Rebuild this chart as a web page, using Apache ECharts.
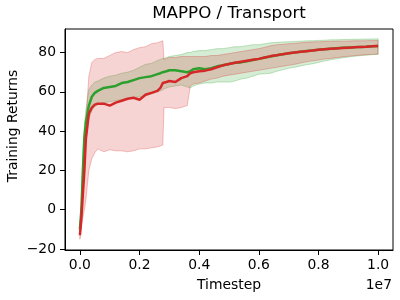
<!DOCTYPE html>
<html>
<head>
<meta charset="utf-8">
<script src="https://cdn.jsdelivr.net/npm/echarts@6/dist/echarts.min.js"></script>
<style>html,body{margin:0;padding:0;background:#fff}#c{width:400px;height:300px}</style>
</head>
<body>
<div id="c"></div>
<script>
const timesteps = [0, 50000, 100000, 150000, 200000, 300000, 400000, 500000, 600000, 800000,
  1000000, 1200000, 1400000, 1600000, 1800000, 2000000, 2200000, 2400000, 2600000, 2700000,
  2780000, 2820000, 2900000, 3000000, 3200000, 3400000, 3600000, 3700000, 3800000, 4000000,
  4200000, 4400000, 4600000, 4800000, 5000000, 5200000, 5400000, 5600000, 5800000, 6000000,
  6200000, 6400000, 6600000, 6800000, 7000000, 7200000, 7400000, 7600000, 7800000, 8000000,
  8200000, 8400000, 8600000, 8800000, 9000000, 9200000, 9400000, 9600000, 9800000, 10000000];

const redMean = [-13, -4, 8, 20, 36, 49, 52, 53.5, 54, 54,
  53, 54.5, 55.5, 56.5, 57, 56, 58.5, 59.5, 60.5, 62,
  64.5, 65, 65, 65.5, 65, 67, 68, 69.5, 70, 70.5,
  70.8, 71.5, 72.5, 73.5, 74.2, 74.8, 75.3, 75.8, 76.3, 76.8,
  77.5, 78.2, 78.6, 79.2, 79.6, 80, 80.4, 80.7, 81, 81.4,
  81.7, 81.9, 82.1, 82.3, 82.5, 82.7, 82.9, 83, 83.2, 83.3];
const redLow = [-15, -9, -4, 0, 5, 20, 26, 29, 31, 29.5,
  30.5, 30, 30, 29.5, 30, 31, 31, 31.5, 32, 32.5,
  33, 52, 52, 52, 51.5, 52, 53, 63, 64, 64.5,
  65.5, 66.5, 67, 68, 68.5, 69, 69.5, 70, 70.5, 71,
  71.5, 72, 72.5, 73, 73.5, 74, 74.7, 75.3, 75.8, 76.2,
  76.7, 77, 77.4, 77.8, 78.1, 78.4, 78.7, 78.9, 79.1, 79.2];
const redHigh = [-11, 2, 18, 32, 46, 68, 75, 76.5, 77, 77,
  78.5, 80, 80.5, 80, 81.5, 82.5, 83, 84.5, 85, 85.5,
  86, 76.5, 77, 77.5, 77.5, 78, 78, 78, 78, 78,
  78, 78.5, 78.5, 79, 79.5, 80, 80.5, 81, 81.5, 82,
  82.7, 83.5, 84, 84.2, 84.5, 84.7, 85, 85.2, 85.4, 85.5,
  85.6, 85.7, 85.8, 85.8, 85.9, 86, 86, 86, 86.1, 86.1];

const greenMean = [-10, 0, 20, 37, 44.5, 53, 57.5, 59.5, 60.5, 62,
  62.5, 63, 64.5, 65, 66, 67, 67.5, 68, 69, 69.5,
  70, 70.5, 70.5, 71, 71, 70.5, 70, 70.5, 71.5, 72,
  71.5, 72, 73, 73.5, 74.2, 74.8, 75, 75.6, 76.2, 76.8,
  77.5, 78, 78.6, 79.1, 79.6, 80, 80.4, 80.8, 81.1, 81.4,
  81.7, 82, 82.2, 82.4, 82.6, 82.7, 82.9, 83, 83.2, 83.3];
const greenLow = [-12, -5, 12, 29, 37, 46, 50.5, 52.5, 53.5, 54.5,
  55, 55.5, 56, 56.5, 57, 57.5, 58, 59, 60, 60.5,
  61, 61.5, 62, 62.5, 63, 63.5, 62.5, 62, 63, 64,
  64.5, 64.5, 65, 65, 65, 65.5, 66.5, 67, 68, 69,
  69.2, 69.5, 70.5, 71.2, 72, 72.5, 73.2, 73.8, 74.3, 75,
  75.7, 76.3, 76.8, 77.3, 77.7, 78.1, 78.4, 78.7, 78.9, 79.1];
const greenHigh = [-8, 5, 27, 43, 51, 61, 63.5, 65, 65.5, 67,
  68, 68.5, 69.5, 70, 71, 72.5, 74, 74.5, 76, 76.5,
  77, 77, 77.5, 78, 78.5, 79, 80, 80, 80.5, 81,
  81, 81.5, 82, 82, 82.5, 83, 83, 83.5, 84, 84,
  84.5, 85, 85.2, 85.4, 85.5, 85.7, 85.8, 86, 86, 86.2,
  86.3, 86.5, 86.5, 86.6, 86.7, 86.8, 86.8, 86.9, 86.9, 87];

const xTicks = [0, 2000000, 4000000, 6000000, 8000000, 10000000];
const yTicks = [-20, 0, 20, 40, 60, 80];

const FONT = 'DejaVu Sans';
const RED = '#d62728', GREEN = '#2ca02c';

function pairs(ys) { return timesteps.map((t, i) => [t, ys[i]]); }

function band(name, lo, hi, rgb) {
  return {
    type: 'custom', name: name, clip: true, silent: true, z: 1,
    data: [[timesteps[0], lo[0]]],
    encode: { x: 0, y: 1 },
    renderItem: function (params, api) {
      const up = timesteps.map((t, i) => api.coord([t, hi[i]]));
      const dn = timesteps.map((t, i) => api.coord([t, lo[i]])).reverse();
      return {
        type: 'polygon',
        shape: { points: up.concat(dn) },
        style: { fill: 'rgba(' + rgb + ',0.2)', stroke: 'rgba(' + rgb + ',0.28)', lineWidth: 1 }
      };
    }
  };
}

const chart = echarts.init(document.getElementById('c'), null, { renderer: 'canvas' });
chart.setOption({
  animation: false,
  backgroundColor: '#fff',
  grid: { left: 65, right: 7, top: 29, bottom: 50, show: true, borderColor: '#000', borderWidth: 1, backgroundColor: 'transparent' },
  xAxis: {
    type: 'value', min: -500000, max: 10500000,
    splitLine: { show: false },
    axisLine: { show: true, onZero: false, lineStyle: { color: '#000', width: 1 } },
    axisTick: { show: true, customValues: xTicks, length: 5, lineStyle: { color: '#000' } },
    axisLabel: { customValues: xTicks, margin: 8, color: '#000', fontSize: 13.9, fontFamily: FONT,
      formatter: v => (v / 1e7).toFixed(1) }
  },
  yAxis: {
    type: 'value', min: -20.5, max: 92,
    splitLine: { show: false },
    axisLine: { show: true, onZero: false, lineStyle: { color: '#000', width: 1 } },
    axisTick: { show: true, customValues: yTicks, length: 5, lineStyle: { color: '#000' } },
    axisLabel: { customValues: yTicks, margin: 9, color: '#000', fontSize: 13.9, fontFamily: FONT,
      formatter: v => String(v).replace('-', '\u2212') }
  },
  series: [
    band('green band', greenLow, greenHigh, '44,160,44'),
    band('red band', redLow, redHigh, '214,39,40'),
    { type: 'line', name: 'MAPPO green', data: pairs(greenMean), symbol: 'none',
      lineStyle: { color: GREEN, width: 2.5 }, z: 3 },
    { type: 'line', name: 'MAPPO red', data: pairs(redMean), symbol: 'none',
      lineStyle: { color: RED, width: 2.5 }, z: 4 }
  ],
  graphic: [
    { type: 'text', x: 229, y: 14, style: { text: 'MAPPO / Transport', font: '16.7px "DejaVu Sans"', fill: '#000', align: 'center', verticalAlign: 'middle' } },
    { type: 'text', x: 229, y: 285, style: { text: 'Timestep', font: '13.9px "DejaVu Sans"', fill: '#000', align: 'center', verticalAlign: 'middle' } },
    { type: 'text', x: 392, y: 285, style: { text: '1e7', font: '13.9px "DejaVu Sans"', fill: '#000', align: 'right', verticalAlign: 'middle' } },
    { type: 'text', x: 13, y: 126, rotation: Math.PI / 2, style: { text: 'Training Returns', font: '13.9px "DejaVu Sans"', fill: '#000', align: 'center', verticalAlign: 'middle' } }
  ]
});
</script>
</body>
</html>
